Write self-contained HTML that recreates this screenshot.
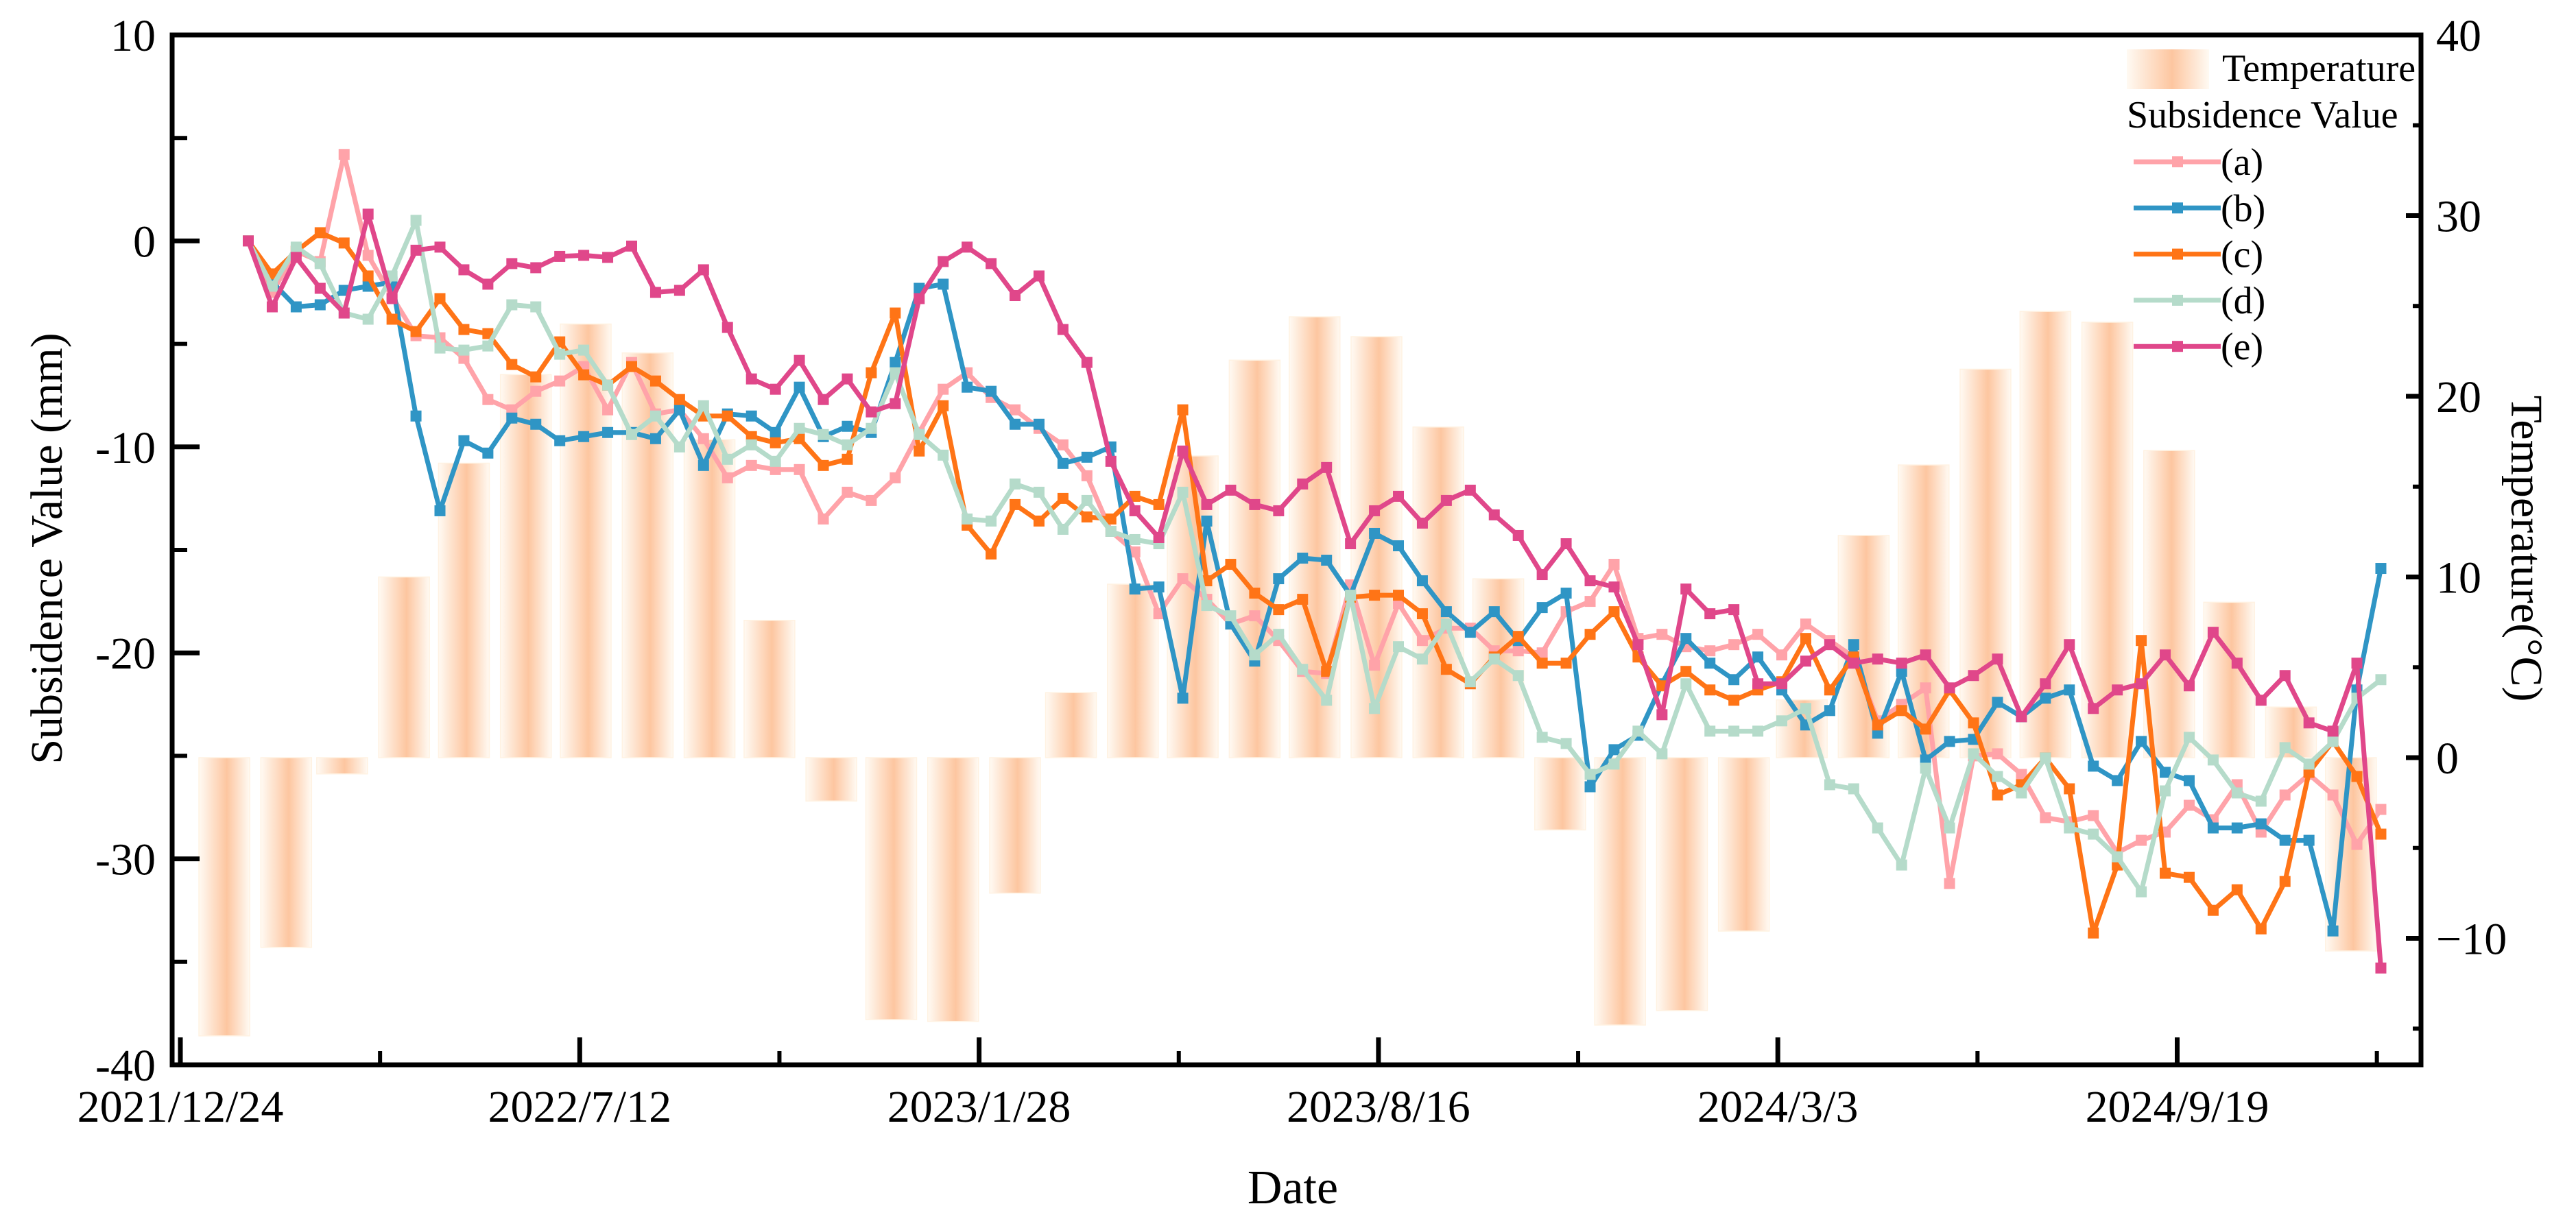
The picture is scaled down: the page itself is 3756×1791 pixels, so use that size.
<!DOCTYPE html>
<html><head><meta charset="utf-8">
<style>
html,body{margin:0;padding:0;background:#fff;}
svg{display:block;font-family:"Liberation Serif","DejaVu Serif",serif;}
</style></head>
<body>
<svg id="chart" xmlns="http://www.w3.org/2000/svg" width="3756" height="1791" viewBox="0 0 3756 1791">
<defs>
<linearGradient id="barGrad" x1="0" y1="0" x2="1" y2="0">
<stop offset="0" stop-color="#fffaf3"/>
<stop offset="0.55" stop-color="#fdc6a0"/>
<stop offset="1" stop-color="#fffaf3"/>
</linearGradient>
</defs>
<g id="bars"></g>
<g id="lines"></g>
<g id="axes"></g>
<g id="legend"></g>
</svg>
<script>
const tempMonths = ["2022-01","2022-02","2022-03","2022-04","2022-05","2022-06","2022-07","2022-08","2022-09","2022-10","2022-11","2022-12","2023-01","2023-02","2023-03","2023-04","2023-05","2023-06","2023-07","2023-08","2023-09","2023-10","2023-11","2023-12","2024-01","2024-02","2024-03","2024-04","2024-05","2024-06","2024-07","2024-08","2024-09","2024-10","2024-11","2024-12"];
const tempValues = [-15.4,-10.5,-0.9,10,16.3,21.2,24,22.4,17.6,7.6,-2.4,-14.5,-14.6,-7.5,3.6,9.6,16.7,22,24.4,23.3,18.3,9.9,-4.0,-14.8,-14.0,-9.6,3.2,12.3,16.2,21.5,24.7,24.1,17.0,8.6,2.8,-10.7];
const seriesStart = "2022-01-27";
const seriesStepDays = 12;
const seriesA = [0,-2.5,-0.5,-1,4.2,-0.7,-2.7,-4.6,-4.7,-5.7,-7.7,-8.2,-7.3,-6.8,-6.1,-8.2,-5.9,-8.4,-8.2,-9.6,-11.5,-10.9,
-11.1,-11.1,-13.5,-12.2,-12.6,-11.5,-9.3,-7.2,-6.4,-7.6,-8.2,-9.1,-9.9,-11.4,-14.1,-15.1,-18.1,-16.4,-17.4,-18.6,-18.2,-19.4,-20.9,-21.0,
-16.7,-20.6,-17.6,-19.4,-18.8,-18.8,-19.9,-19.9,-20.0,-18.0,-17.5,-15.7,-19.3,-19.1,-19.7,-19.9,-19.6,-19.1,-20.1,-18.6,-19.4,-20.2,-23.3,-22.5,
-21.7,-31.2,-25.0,-24.9,-25.9,-28.0,-28.2,-27.9,-29.7,-29.1,-28.7,-27.4,-28.1,-26.4,-28.7,-26.9,-25.9,-26.9,-29.3,-27.6];
const seriesB = [0,-2,-3.2,-3.1,-2.4,-2.2,-2,-8.5,-13.1,-9.7,-10.3,-8.6,-8.9,-9.7,-9.5,-9.3,-9.3,-9.6,-8.2,-10.9,-8.4,-8.5,
-9.3,-7.1,-9.5,-9.0,-9.3,-5.9,-2.3,-2.1,-7.1,-7.3,-8.9,-8.9,-10.8,-10.5,-10.0,-16.9,-16.8,-22.2,-13.6,-18.6,-20.4,-16.4,-15.4,-15.5,
-17.2,-14.2,-14.8,-16.5,-18.0,-19.0,-18.0,-19.4,-17.8,-17.1,-26.5,-24.7,-24.0,-21.5,-19.3,-20.5,-21.3,-20.2,-21.8,-23.5,-22.8,-19.6,-23.9,-20.9,
-25.2,-24.3,-24.2,-22.4,-23.1,-22.2,-21.8,-25.5,-26.2,-24.3,-25.8,-26.2,-28.5,-28.5,-28.3,-29.1,-29.1,-33.5,-21.8,-15.9];
const seriesC = [0,-1.6,-0.5,0.4,-0.1,-1.7,-3.8,-4.4,-2.8,-4.3,-4.5,-6,-6.6,-4.9,-6.5,-7,-6.1,-6.8,-7.7,-8.5,-8.5,-9.5,
-9.8,-9.6,-10.9,-10.6,-6.4,-3.5,-10.2,-8.0,-13.8,-15.2,-12.8,-13.6,-12.5,-13.4,-13.5,-12.4,-12.8,-8.2,-16.5,-15.7,-17.1,-17.9,-17.4,-20.9,
-17.3,-17.2,-17.2,-18.1,-20.8,-21.5,-20.2,-19.2,-20.5,-20.5,-19.1,-18.0,-20.2,-21.6,-20.9,-21.8,-22.3,-21.8,-21.4,-19.3,-21.8,-20.2,-23.5,-22.8,
-23.7,-21.8,-23.4,-26.9,-26.4,-25.1,-26.6,-33.6,-30.3,-19.4,-30.7,-30.9,-32.5,-31.5,-33.4,-31.1,-25.8,-24.3,-26.0,-28.8];
const seriesD = [0,-2.2,-0.3,-1.1,-3.5,-3.8,-1.7,1,-5.2,-5.3,-5.1,-3.1,-3.2,-5.5,-5.3,-7,-9.4,-8.5,-10,-8,-10.6,-9.9,
-10.7,-9.1,-9.4,-9.9,-9.1,-6.4,-9.4,-10.4,-13.5,-13.6,-11.8,-12.2,-14.0,-12.6,-14.1,-14.5,-14.7,-12.2,-17.7,-18.2,-20.1,-19.1,-20.8,-22.3,
-17.2,-22.7,-19.7,-20.3,-18.6,-21.4,-20.3,-21.1,-24.1,-24.4,-25.9,-25.4,-23.8,-24.9,-21.5,-23.8,-23.8,-23.8,-23.3,-22.7,-26.4,-26.6,-28.5,-30.3,
-25.6,-28.5,-24.9,-26.0,-26.8,-25.1,-28.5,-28.8,-29.9,-31.6,-26.7,-24.1,-25.2,-26.8,-27.2,-24.6,-25.4,-24.3,-22.2,-21.3];
const seriesE = [0,-3.2,-0.8,-2.3,-3.5,1.3,-2.8,-0.45,-0.3,-1.4,-2.1,-1.1,-1.3,-0.75,-0.7,-0.8,-0.25,-2.5,-2.4,-1.4,-4.2,-6.7,
-7.2,-5.8,-7.7,-6.7,-8.3,-7.9,-2.8,-1.0,-0.3,-1.1,-2.65,-1.7,-4.3,-5.9,-10.7,-13.1,-14.4,-10.2,-12.8,-12.1,-12.8,-13.1,-11.8,-11.0,
-14.7,-13.1,-12.4,-13.7,-12.6,-12.1,-13.3,-14.3,-16.2,-14.7,-16.5,-16.8,-19.6,-23.0,-16.9,-18.1,-17.9,-21.5,-21.5,-20.4,-19.6,-20.5,-20.3,-20.5,
-20.1,-21.7,-21.1,-20.3,-23.1,-21.5,-19.6,-22.7,-21.8,-21.5,-20.1,-21.6,-19.0,-20.5,-22.3,-21.1,-23.4,-23.8,-20.5,-35.3];
const seriesNames = ["(a)","(b)","(c)","(d)","(e)"];
const xTickLabels = ["2021/12/24","2022/7/12","2023/1/28","2023/8/16","2024/3/3","2024/9/19"];
const leftTicks = [10,0,-10,-20,-30,-40];
const rightTicks = [40,30,20,10,0,-10];

const NS = "http://www.w3.org/2000/svg";
const colors = ["#ffa3a9","#2f95c5","#ff7416","#b5dbca","#e0478a"];
const X0 = 251, X1 = 3530, Y0 = 51, Y1 = 1553;
const originMs = Date.UTC(2021, 11, 24);
const dayPx = 582.3 / 200;
function dayOf(str){ const p = str.split("-").map(Number); return (Date.UTC(p[0], p[1]-1, p[2]||1) - originMs) / 86400000; }
function xScale(day){ return 263 + day * dayPx; }
function yLeft(v){ return Y0 + (10 - v) * (Y1 - Y0) / 50; }
function yRight(t){ return Y0 + (40 - t) * 26.35; }
function mk(tag, attrs, parent){ const e = document.createElementNS(NS, tag); for (const k in attrs) e.setAttribute(k, attrs[k]); parent.appendChild(e); return e; }

// bars
const gBars = document.getElementById("bars");
tempValues.forEach((t, k) => {
  const cx = xScale(dayOf(tempMonths[k] + "-15"));
  const y0 = yRight(0), yv = yRight(t);
  const r = mk("rect", {x: cx - 37, y: Math.min(y0, yv), width: 74, height: Math.abs(yv - y0), fill: "url(#barGrad)", stroke: "#fff2e2", "stroke-width": 1.5}, gBars);
  
  
});

// lines
const gLines = document.getElementById("lines");
const startDay = dayOf(seriesStart);
[seriesA, seriesB, seriesC, seriesD, seriesE].forEach((s, si) => {
  const pts = s.map((v, i) => [xScale(startDay + i * seriesStepDays), yLeft(v)]);
  const pl = mk("polyline", {points: pts.map(p => p[0].toFixed(1) + "," + p[1].toFixed(1)).join(" "), fill: "none", stroke: colors[si], "stroke-width": 7, "stroke-linejoin": "round"}, gLines);
  
  
  pts.forEach(p => {
    const m = mk("rect", {x: p[0] - 8, y: p[1] - 8, width: 16, height: 16, fill: colors[si]}, gLines);
    
    
  });
});

// axes
const gAx = document.getElementById("axes");
const frame = mk("rect", {x: X0, y: Y0, width: X1 - X0, height: Y1 - Y0, fill: "none", stroke: "#000", "stroke-width": 7}, gAx);


leftTicks.forEach(v => {
  const y = yLeft(v);
  mk("line", {x1: X0, x2: X0 + 40, y1: y, y2: y, stroke: "#000", "stroke-width": 7}, gAx);
  if (v > -40) mk("line", {x1: X0, x2: X0 + 22, y1: yLeft(v - 5), y2: yLeft(v - 5), stroke: "#000", "stroke-width": 6}, gAx);
  const t = mk("text", {x: X0 - 24, y: y + 23, "font-size": 66, "text-anchor": "end", fill: "#000"}, gAx);
  t.textContent = v < 0 ? "-" + Math.abs(v) : String(v);
  
  
});
rightTicks.forEach(v => {
  const y = yRight(v);
  mk("line", {x1: X1 - 22, x2: X1, y1: y, y2: y, stroke: "#000", "stroke-width": 7}, gAx);
  const ym = yRight(v - 5);
  if (ym < Y1 - 5) mk("line", {x1: X1 - 12, x2: X1, y1: ym, y2: ym, stroke: "#000", "stroke-width": 6}, gAx);
  const t = mk("text", {x: X1 + 22, y: y + 23, "font-size": 66, fill: "#000"}, gAx);
  t.textContent = v < 0 ? "\u2212" + Math.abs(v) : String(v);
  
  
});
xTickLabels.forEach((lab, i) => {
  const x = xScale(i * 200);
  mk("line", {x1: x, x2: x, y1: Y1, y2: Y1 - 40, stroke: "#000", "stroke-width": 7}, gAx);
  const xm = xScale(i * 200 + 100);
  mk("line", {x1: xm, x2: xm, y1: Y1, y2: Y1 - 20, stroke: "#000", "stroke-width": 6}, gAx);
  const t = mk("text", {x: x, y: 1636, "font-size": 66, "text-anchor": "middle", fill: "#000"}, gAx);
  t.textContent = lab;
  
  
});
const xt = mk("text", {x: 1885, y: 1755, "font-size": 70, "text-anchor": "middle", fill: "#000"}, gAx);
xt.textContent = "Date";


const yt = mk("text", {x: 0, y: 0, "font-size": 66, "text-anchor": "middle", fill: "#000", transform: "translate(90,800) rotate(-90)"}, gAx);
yt.textContent = "Subsidence Value (mm)";


const yt2 = mk("text", {x: 0, y: 0, "font-size": 66, "text-anchor": "middle", fill: "#000", transform: "translate(3662,800) rotate(90)"}, gAx);
yt2.textContent = "Temperature(\u00B0C)";



// legend
const gLeg = document.getElementById("legend");
const sw = mk("rect", {x: 3101, y: 72, width: 120, height: 58, fill: "url(#barGrad)"}, gLeg);


const lt = mk("text", {x: 3240, y: 118, "font-size": 56, fill: "#000"}, gLeg);
lt.textContent = "Temperature";


const ls = mk("text", {x: 3101, y: 186, "font-size": 56, fill: "#000"}, gLeg);
ls.textContent = "Subsidence Value";


seriesNames.forEach((n, i) => {
  const y = 236 + i * 67.3;
  const l = mk("line", {x1: 3111, x2: 3238, y1: y, y2: y, stroke: colors[i], "stroke-width": 7}, gLeg);
  
  
  mk("rect", {x: 3167, y: y - 8, width: 16, height: 16, fill: colors[i]}, gLeg);
  const t = mk("text", {x: 3238, y: y + 19, "font-size": 56, fill: "#000"}, gLeg);
  t.textContent = n;
  
  
});
</script>
</body></html>
